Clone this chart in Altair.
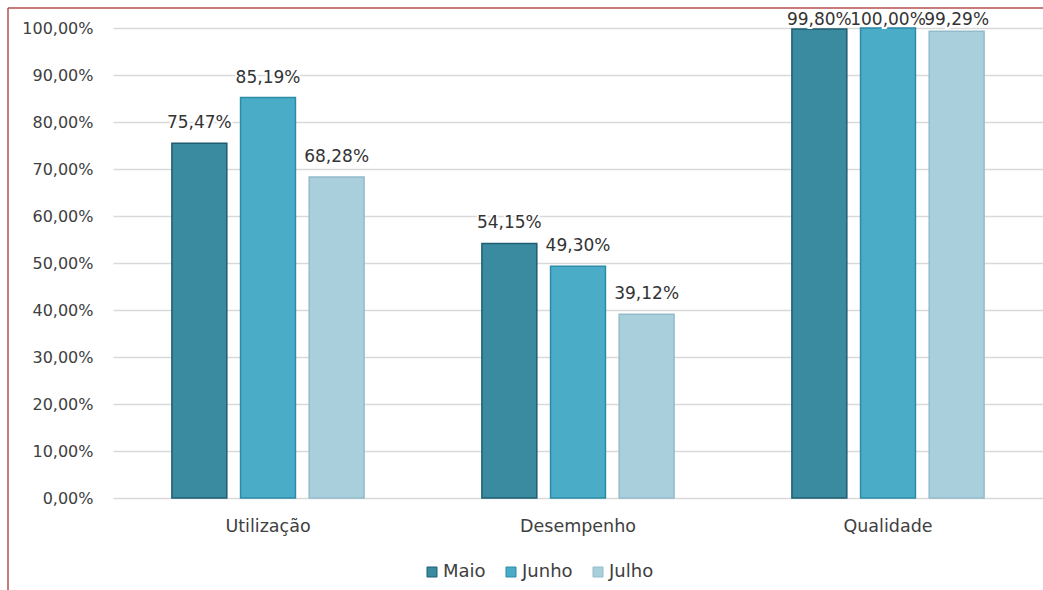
import altair as alt
import pandas as pd

# Indicadores por mês
categorias = ["Utilização", "Desempenho", "Qualidade"]
meses = ["Maio", "Junho", "Julho"]
maio = [75.47, 54.15, 99.80]
junho = [85.19, 49.30, 100.00]
julho = [68.28, 39.12, 99.29]

cores = ["#3A8AA0", "#4AACC6", "#A9CFDD"]
contornos = ["#1E5D70", "#2C8BA6", "#93BCCB"]
FONTE = "DejaVu Sans"

linhas = []
for mes, serie in zip(meses, [maio, junho, julho]):
    for cat, v in zip(categorias, serie):
        rotulo = f"{v:.2f}".replace(".", ",") + "%"
        linhas.append({"categoria": cat, "mes": mes, "valor": v, "rotulo": rotulo})
df = pd.DataFrame(linhas)

legenda = alt.Legend(
    title=None, orient="none", direction="horizontal",
    legendX=310, legendY=535,
    symbolType="square", symbolSize=100, symbolStrokeWidth=1,
    labelFontSize=18, labelColor="#404040", labelFont=FONTE,
    labelOffset=2, columnPadding=16,
)

x_enc = alt.X(
    "categoria:N",
    sort=categorias,
    scale=alt.Scale(paddingInner=0.38, paddingOuter=0.19),
    axis=alt.Axis(
        title=None, labelAngle=0, domain=False, ticks=False,
        labelPadding=19, labelFontSize=17.5, labelColor="#404040", labelFont=FONTE,
    ),
)
off_enc = alt.XOffset("mes:N", sort=meses, scale=alt.Scale(paddingInner=0.2, paddingOuter=0))
y_scale = alt.Scale(domain=[0, 100])

barras = alt.Chart(df).mark_bar(strokeWidth=1.5).encode(
    x=x_enc,
    xOffset=off_enc,
    y=alt.Y(
        "valor:Q",
        scale=y_scale,
        axis=alt.Axis(
            title=None, values=list(range(0, 101, 10)), domain=False, ticks=False,
            labelPadding=20, labelFontSize=16, labelColor="#404040", labelFont=FONTE,
            labelExpr="replace(format(datum.value, '.2f'), '.', ',') + '%'",
            gridColor="#D9D9D9", gridWidth=1.5,
        ),
    ),
    color=alt.Color("mes:N", sort=meses, scale=alt.Scale(domain=meses, range=cores), legend=legenda),
    stroke=alt.Stroke("mes:N", sort=meses, scale=alt.Scale(domain=meses, range=contornos), legend=legenda),
)

# rótulos de valor; perto do topo ficam dentro da área do gráfico
base_txt = alt.Chart(df).transform_calculate(
    pos="min(datum.valor, 97.4)"
).encode(
    x=alt.X("categoria:N", sort=categorias),
    xOffset=off_enc,
    y=alt.Y("pos:Q", scale=y_scale),
    text="rotulo:N",
)

halo = base_txt.mark_text(
    dy=-15, baseline="alphabetic", fontSize=17, font=FONTE,
    color="white", stroke="white", strokeWidth=4,
)
textos = base_txt.mark_text(
    dy=-15, baseline="alphabetic", fontSize=17, font=FONTE, color="#333333",
)

# moldura vermelha (lados superior e esquerdo)
borda_esq = alt.Chart().mark_rule(color="#B5504F", strokeWidth=1.5).encode(
    x=alt.value(-105), y=alt.value(-20), y2=alt.value(565)
)
borda_top = alt.Chart().mark_rule(color="#B5504F", strokeWidth=1.5).encode(
    x=alt.value(-105), x2=alt.value(935), y=alt.value(-20)
)

chart = alt.layer(barras, halo, textos, borda_esq, borda_top).properties(
    width=930, height=470,
    padding={"left": 113, "top": 28, "right": 0, "bottom": 92},
    autosize=alt.AutoSizeParams(type="none"),
    background="white",
).configure_view(stroke=None)

chart.save("out.html", embed_options={"renderer": "svg", "actions": False})
